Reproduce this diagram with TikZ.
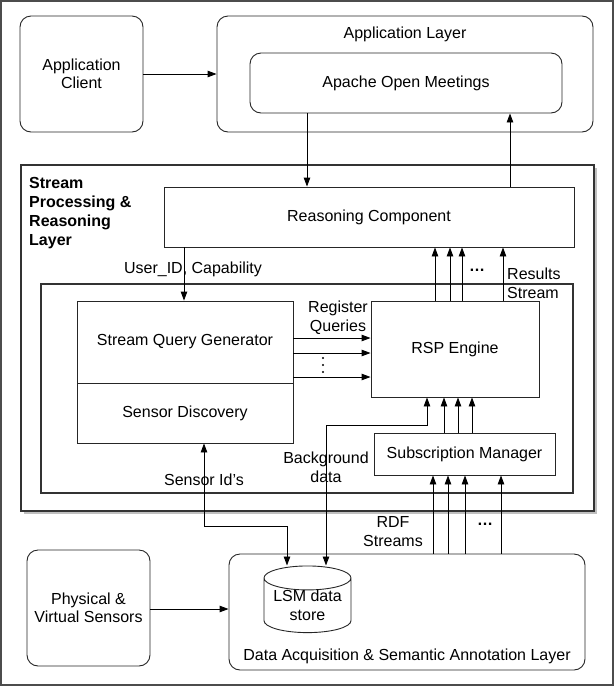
\documentclass[tikz,border=0pt]{standalone}
\usepackage{fontspec}
\setmainfont{Liberation Sans}
\usetikzlibrary{arrows.meta, positioning, shapes.geometric, shadows}

\tikzset{
  box/.style={draw=black!85, line width=0.9pt, align=center, inner sep=0pt},
  rbox/.style={box, rounded corners=11pt},
  arr/.style={-{Triangle[length=9pt,width=6.5pt]}, line width=0.9pt},
  darr/.style={{Triangle[length=9pt,width=6.5pt]}-{Triangle[length=9pt,width=6.5pt]}, line width=0.9pt},
  lbl/.style={align=center, inner sep=0pt},
}

\begin{document}
\begin{tikzpicture}[x=1pt, y=-1pt, every node/.style={font=\fontsize{16}{18.5}\selectfont}]
    \useasboundingbox (0,0) rectangle (614,686);
    \draw[black!70, line width=1.5pt] (1,1) rectangle (613,685);

    % Application layer
    \node[rbox, minimum width=123, minimum height=116] (client) at (81.5,74) {Application\\Client};
    \node[rbox, minimum width=376, minimum height=116] (applayer) at (405,74) {};
    \node[lbl] (apptitle) at (405,34.5) {Application Layer};
    \node[rbox, minimum width=312, minimum height=60] (oms) at (406,83) {Apache Open Meetings};
    \draw[arr] (client) -- (applayer);

    % Stream processing & reasoning layer
    \node[draw=black!80, line width=1.6pt, fill=white, minimum width=573, minimum height=346,
          drop shadow={shadow xshift=2.5pt, shadow yshift=-2.5pt, opacity=0.5}] (splayer) at (307.5,338) {};
    \node[anchor=north west, align=left, inner sep=0pt, font=\bfseries\fontsize{16}{19}\selectfont]
        (sptitle) at (29,177.5) {Stream\\Processing \&\\Reasoning\\Layer};
    \node[box, minimum width=410, minimum height=60] (rc) at (369,217) {Reasoning Component};
    \node[draw=black!80, line width=1.2pt, minimum width=532, minimum height=209] (inner) at (307,388.5) {};
    \node[box, minimum width=216, minimum height=82] (sqg) at (185,342) {Stream Query Generator};
    \node[box, minimum width=216, minimum height=60] (sd) at (185,413) {Sensor Discovery};
    \node[box, minimum width=168, minimum height=96] (rsp) at (455,349) {RSP Engine};
    \node[box, minimum width=181, minimum height=42] (sm) at (464.5,454) {Subscription Manager};

    % Data acquisition layer
    \node[rbox, minimum width=123, minimum height=116] (pvs) at (88.5,608) {Physical \&\\Virtual Sensors};
    \node[rbox, minimum width=356, minimum height=116] (dal) at (407,612) {};
    \node[lbl] (daltitle) at (407,656.5) {Data Acquisition \& Semantic Annotation Layer};
    \node[cylinder, shape border rotate=90, draw=black!85, line width=0.9pt, aspect=0.35,
          minimum width=87, minimum height=65, align=center, inner sep=0pt] (lsm) at (307.5,605.5) {LSM data\\store};

    % Connectors
    \draw[arr] (oms.south -| 307,0) -- (rc.north -| 307,0);
    \draw[arr] (rc.north -| 510,0) -- (oms.south -| 510,0);
    \draw[arr] (rc.south -| 184,0) -- (sqg.north -| 184,0);
    \node[lbl] (uid) at (193,269.5) {User\_ID, Capability};
    \foreach \y in {338,353,377}
        \draw[arr] (sqg.east |- 0,\y) -- (rsp.west |- 0,\y);
    \node[lbl] (regq) at (338,317.5) {Register\\Queries};
    \foreach \y in {358,365,372}
        \fill (323,\y) circle (1.1);
    \foreach \x in {435,450,462,503}
        \draw[arr] (rsp.north -| \x,0) -- (rc.south -| \x,0);
    \node[lbl, font=\bfseries\fontsize{16}{18.5}\selectfont] (rcdots) at (477,270) {\dots};
    \node[lbl, anchor=west, align=left] (rstream) at (507,283.5) {Results\\Stream};
    \foreach \x in {444,458,472}
        \draw[arr] (sm.north -| \x,0) -- (rsp.south -| \x,0);
    \draw[darr] (lsm.north -| 326,0) -- (326,425) -| (rsp.south -| 427,0);
    \node[lbl] (bgdata) at (326,467.5) {Background\\data};
    \draw[darr] (sd.south -| 204,0) -- (204,526) -| (lsm.north -| 287,0);
    \node[lbl] (sids) at (204,479.5) {Sensor Id’s};
    \foreach \x in {433,448,465,501}
        \draw[arr] (dal.north -| \x,0) -- (sm.south -| \x,0);
    \node[lbl] (rdf) at (393,531.5) {RDF\\Streams};
    \node[lbl, font=\bfseries\fontsize{16}{18.5}\selectfont] (smdots) at (485,524) {\dots};
    \draw[arr] (pvs.east |- 0,609) -- (dal.west |- 0,609);
\end{tikzpicture}
\end{document}
